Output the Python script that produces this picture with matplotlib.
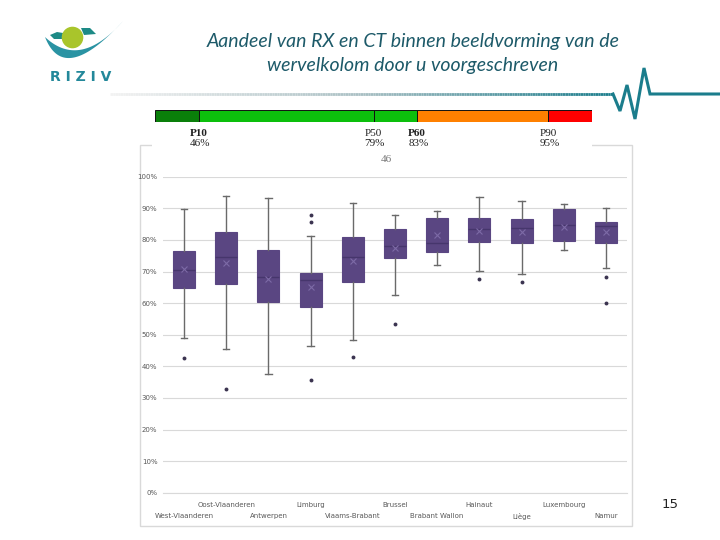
import numpy as np
import matplotlib
matplotlib.use("Agg")
import matplotlib.pyplot as plt
from matplotlib.patches import Polygon, Circle, Rectangle
from matplotlib.collections import LineCollection

################################################################
# Data
################################################################
regions = ['West-Vlaanderen', 'Oost-Vlaanderen', 'Antwerpen', 'Limburg',
           'Vlaams-Brabant', 'Brussel', 'Brabant Wallon', 'Hainaut',
           'Liège', 'Luxembourg', 'Namur']
whis_lo = [48.9, 45.5, 37.5, 46.4, 48.2, 62.7, 72.0, 70.3, 69.1, 76.9, 71.2]
q1 = [64.9, 66.0, 60.3, 58.9, 66.7, 74.3, 76.3, 79.4, 79.1, 79.7, 79.1]
median = [70.5, 74.5, 68.4, 67.3, 74.5, 78.0, 79.1, 83.5, 83.8, 84.8, 84.4]
q3 = [76.6, 82.4, 76.9, 69.6, 80.9, 83.4, 86.8, 86.9, 86.7, 89.9, 85.8]
whis_hi = [89.7, 94.0, 93.4, 81.1, 91.6, 87.8, 89.0, 93.5, 92.2, 91.4, 90.0]
means = [70.8, 72.8, 67.5, 65.2, 73.4, 77.5, 81.5, 82.9, 82.6, 84.2, 82.6]
outliers = [[42.5], [32.8], [], [87.9, 85.8, 35.6], [42.8], [53.5], [],
            [67.7], [66.6], [], [68.3, 60.1]]

pct_names = ['P10', 'P50', 'P60', 'P90']
pct_rank = [10, 50, 60, 90]
pct_value = [46, 79, 83, 95]
seg_edges = [0, 10, 50, 60, 90, 100]
seg_colors = ['#0a7f0a', '#0cbf0c', '#0cbf0c', '#ff8000', '#ff0000']
my_count = '46'

yticks = np.arange(0, 101, 10)

TEAL = '#1b7d8c'
BOX = '#5a4682'

################################################################
# Figure / overlay in pixel coords
################################################################
fig = plt.figure(figsize=(7.2, 5.4), dpi=100)
fig.patch.set_facecolor('white')

ov = fig.add_axes([0, 0, 1, 1], zorder=0)
ov.set_xlim(0, 720)
ov.set_ylim(540, 0)
ov.axis('off')

# title
for yy, line in [(42, 'Aandeel van RX en CT binnen beeldvorming van de'),
                 (65, 'wervelkolom door u voorgeschreven')]:
    ov.text(413, yy, line, ha='center', va='center', fontsize=14,
            style='italic', family='Lato', color='#1d5a69')

# logo
t = np.linspace(0, 1, 40)
def bez(p0, p1, p2):
    p0, p1, p2 = map(np.array, (p0, p1, p2))
    return ((1-t)**2)[:, None]*p0 + (2*(1-t)*t)[:, None]*p1 + (t**2)[:, None]*p2
outer = bez((45, 37), (64, 86), (123, 21))
inner = bez((123, 21), (80, 70), (45, 37))
ov.add_patch(Polygon(np.vstack([outer, inner]), closed=True, fc='#2a93a3', ec='none'))
ov.add_patch(Polygon([(50, 35), (57, 32), (63, 33), (62, 39), (54, 39)],
                     closed=True, fc='#1d8a86', ec='none'))
ov.add_patch(Polygon([(81, 28), (90, 28), (96, 34), (84, 35)],
                     closed=True, fc='#1d8a86', ec='none'))
ov.add_patch(Circle((72.5, 37.5), 10.8, fc='#a9c52b', ec='none'))
ov.text(81, 77, 'R I Z I V', ha='center', va='center', fontsize=10,
        fontweight='bold', color='#23889a', family='DejaVu Sans')

# header line with heartbeat
xs = np.linspace(110, 613, 200)
pts = np.array([[xs[:-1], np.full(199, 94)], [xs[1:], np.full(199, 94)]]).transpose(2, 0, 1)
cm = matplotlib.colors.LinearSegmentedColormap.from_list('g', ['#f2f2f2', '#a9bfc3', TEAL])
lc = LineCollection(pts, colors=cm(np.linspace(0, 1, 199)), linewidths=2)
ov.add_collection(lc)
ov.plot([613, 620, 627, 635, 644, 650, 720], [94, 111, 85, 119, 68, 94, 94],
        color=TEAL, lw=2.2, solid_joinstyle='miter')

# chart frame
ov.add_patch(Rectangle((140, 145), 492, 381, fill=False, ec='#d9d9d9', lw=1))
ov.add_patch(Rectangle((152, 125), 440, 30, fc='white', ec='none'))

# percentile labels
for name, r, v in zip(pct_names, pct_rank, pct_value):
    xp = 155 + r / 100 * 437
    bold = 'bold' if name in ('P10', 'P60') else 'normal'
    ov.text(xp - 9, 133, name, ha='left', va='center', fontsize=8,
            family='Liberation Serif', fontweight=bold, color='#222222')
    ov.text(xp - 9, 144, f'{v}%', ha='left', va='center', fontsize=8,
            family='Liberation Serif', color='#222222')
ov.text(386, 160, my_count, ha='center', va='center', fontsize=8,
        family='Liberation Serif', color='#777777')

ov.text(670, 504, '15', ha='center', va='center', fontsize=9.5,
        family='DejaVu Sans', color='#222222')

################################################################
# Percentile bar
################################################################
pb = fig.add_axes([155/720, (540-122)/540, 437/720, 12/540], zorder=2)
for a, b, c in zip(seg_edges[:-1], seg_edges[1:], seg_colors):
    pb.barh(0, b - a, left=a, height=1, color=c, edgecolor='#111111', linewidth=0.7)
pb.set_xlim(0, 100)
pb.set_ylim(-0.5, 0.5)
pb.axis('off')

################################################################
# Box plot
################################################################
ax = fig.add_axes([163/720, (540-492.7)/540, 464/720, 316/540], zorder=1)
stats = []
for i, name in enumerate(regions):
    stats.append(dict(label=name, whislo=whis_lo[i], q1=q1[i], med=median[i],
                      q3=q3[i], whishi=whis_hi[i], mean=means[i],
                      fliers=outliers[i]))
pos = np.arange(1, len(regions) + 1)
ax.bxp(stats, positions=pos, widths=0.52, patch_artist=True, showmeans=True,
       capwidths=0.15,
       boxprops=dict(facecolor=BOX, edgecolor=BOX, linewidth=0.8),
       medianprops=dict(color='#46366c', linewidth=1),
       whiskerprops=dict(color='#6a6a6a', linewidth=1),
       capprops=dict(color='#6a6a6a', linewidth=1),
       meanprops=dict(marker='x', markeredgecolor='#7d6aa6', markersize=4.5,
                      markeredgewidth=0.8),
       flierprops=dict(marker='o', markerfacecolor='#3b3450', markeredgecolor='none',
                       markersize=2.8))
ax.set_xlim(0.5, len(regions) + 0.5)
ax.set_ylim(0, 100)
ax.set_yticks(yticks)
ax.set_yticklabels([f'{v}%' for v in yticks], fontsize=5, color='#595959')
ax.yaxis.grid(True, color='#d9d9d9', linewidth=0.8)
ax.set_axisbelow(True)
for s in ['top', 'right', 'left']:
    ax.spines[s].set_visible(False)
ax.spines['bottom'].set_color('#d9d9d9')
ax.tick_params(axis='both', length=0, pad=4)
ax.set_xticks(pos)
ax.set_xticklabels([])
for i, name in enumerate(regions):
    yoff = -9 if i % 2 == 1 else -16.8
    ax.annotate(name, (pos[i], 0), xytext=(0, yoff), textcoords='offset points',
                ha='center', va='center', fontsize=5, color='#595959',
                annotation_clip=False)

fig.savefig('out.png', dpi=100)
